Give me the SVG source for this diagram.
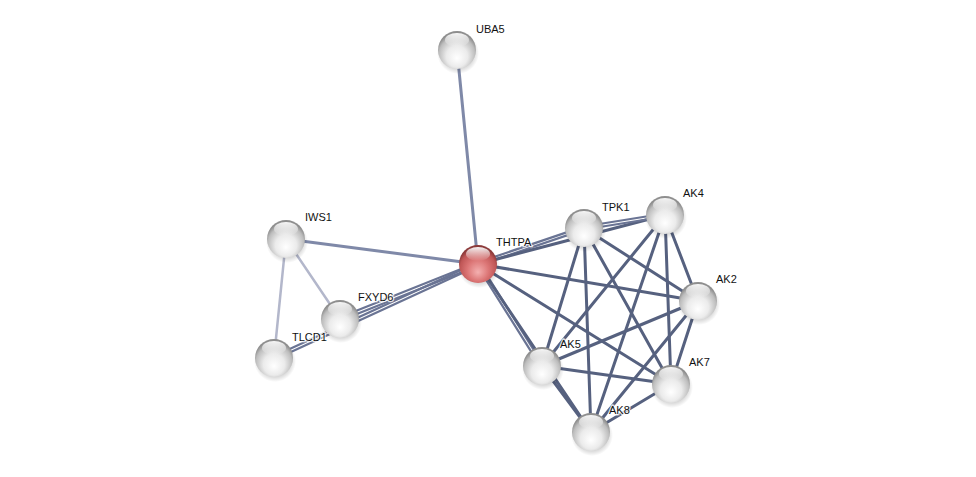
<svg xmlns="http://www.w3.org/2000/svg" width="976" height="477" viewBox="0 0 976 477">
<defs>
<radialGradient id="gBall" cx="50%" cy="62%" r="56%" fx="50%" fy="72%">
<stop offset="0%" stop-color="#ffffff"/>
<stop offset="50%" stop-color="#ebebeb"/>
<stop offset="85%" stop-color="#bdbdbd"/>
<stop offset="100%" stop-color="#8e8e8e"/>
</radialGradient>
<radialGradient id="gRed" cx="50%" cy="62%" r="56%" fx="50%" fy="72%">
<stop offset="0%" stop-color="#f4b0b0"/>
<stop offset="50%" stop-color="#dc7676"/>
<stop offset="85%" stop-color="#bf5656"/>
<stop offset="100%" stop-color="#8c3a3a"/>
</radialGradient>
<linearGradient id="gHi" x1="0" y1="0" x2="0" y2="1">
<stop offset="0%" stop-color="#ffffff" stop-opacity="0.95"/>
<stop offset="100%" stop-color="#ffffff" stop-opacity="0"/>
</linearGradient>
<radialGradient id="gShadow" cx="50%" cy="50%" r="50%">
<stop offset="70%" stop-color="#000" stop-opacity="0.18"/>
<stop offset="100%" stop-color="#000" stop-opacity="0"/>
</radialGradient>
<g id="ball">
<ellipse cx="1" cy="3" rx="21" ry="21" fill="url(#gShadow)"/>
<circle r="19" fill="url(#gBall)"/>
<ellipse cx="0" cy="-10" rx="12" ry="7" fill="url(#gHi)"/>
</g>
<g id="redball">
<ellipse cx="1" cy="3" rx="21" ry="21" fill="url(#gShadow)"/>
<circle r="19" fill="url(#gRed)"/>
<ellipse cx="0" cy="-10" rx="12" ry="7" fill="url(#gHi)"/>
</g>
</defs>
<style>
.e { stroke: #56617f; stroke-width: 3; stroke-linecap: round; fill: none; }
.em { stroke: #7f89a8; stroke-width: 3; stroke-linecap: round; fill: none; }
.el { stroke: #b3b7cb; stroke-width: 2.5; stroke-linecap: round; fill: none; }
.ed { stroke: #6a7494; stroke-width: 2.2; stroke-linecap: round; fill: none; }
text { font-family: "Liberation Sans", Arial, sans-serif; font-size: 11px; fill: #111; stroke: #fff; stroke-width: 2.5; stroke-opacity: 0.8; paint-order: stroke; }
</style>
<rect width="976" height="477" fill="#ffffff"/>
<g id="edges">
<line class="em" x1="457" y1="50" x2="478" y2="264"/>
<line class="em" x1="286" y1="239" x2="478" y2="264"/>
<line class="el" x1="286" y1="239" x2="340" y2="319"/>
<line class="el" x1="286" y1="239" x2="274" y2="358"/>
<line class="ed" x1="478.6" y1="265.4" x2="340.6" y2="320.4"/>
<line class="ed" x1="477.4" y1="262.6" x2="339.4" y2="317.6"/>
<line class="ed" x1="274.6" y1="359.4" x2="478.6" y2="265.4"/>
<line class="ed" x1="273.4" y1="356.6" x2="477.4" y2="262.6"/>
<line class="ed" x1="478.5" y1="265.4" x2="584.5" y2="229.4"/>
<line class="ed" x1="477.5" y1="262.6" x2="583.5" y2="226.6"/>
<line class="e" x1="478" y1="264" x2="665" y2="215"/>
<line class="e" x1="478" y1="264" x2="698" y2="301"/>
<line class="e" x1="478" y1="264" x2="671" y2="384"/>
<line class="ed" x1="479.3" y1="263.2" x2="543.3" y2="365.2"/>
<line class="ed" x1="476.7" y1="264.8" x2="540.7" y2="366.8"/>
<line class="e" x1="478" y1="264" x2="591" y2="432"/>
<line class="ed" x1="584.2" y1="229.5" x2="665.2" y2="216.5"/>
<line class="ed" x1="583.8" y1="226.5" x2="664.8" y2="213.5"/>
<line class="e" x1="584" y1="228" x2="698" y2="301"/>
<line class="e" x1="584" y1="228" x2="542" y2="366"/>
<line class="e" x1="584" y1="228" x2="591" y2="432"/>
<line class="e" x1="584" y1="228" x2="671" y2="384"/>
<line class="e" x1="665" y1="215" x2="698" y2="301"/>
<line class="e" x1="665" y1="215" x2="542" y2="366"/>
<line class="e" x1="665" y1="215" x2="591" y2="432"/>
<line class="e" x1="665" y1="215" x2="671" y2="384"/>
<line class="e" x1="698" y1="301" x2="542" y2="366"/>
<line class="e" x1="698" y1="301" x2="591" y2="432"/>
<line class="e" x1="698" y1="301" x2="671" y2="384"/>
<line class="e" x1="542" y1="366" x2="671" y2="384"/>
<line class="e" x1="542" y1="366" x2="591" y2="432"/>
<line class="e" x1="671" y1="384" x2="591" y2="432"/>
</g>
<g id="UBA5"><use href="#ball" x="457" y="50"/><text x="476" y="33">UBA5</text></g>
<g id="IWS1"><use href="#ball" x="286" y="239"/><text x="305" y="221">IWS1</text></g>
<g id="FXYD6"><use href="#ball" x="340" y="319"/><text x="358" y="301">FXYD6</text></g>
<g id="TLCD1"><use href="#ball" x="274" y="358"/><text x="292" y="341">TLCD1</text></g>
<g id="THTPA"><use href="#redball" x="478" y="264"/><text x="496" y="246">THTPA</text></g>
<g id="TPK1"><use href="#ball" x="584" y="228"/><text x="602" y="211">TPK1</text></g>
<g id="AK4"><use href="#ball" x="665" y="215"/><text x="683" y="197">AK4</text></g>
<g id="AK2"><use href="#ball" x="698" y="301"/><text x="716" y="283">AK2</text></g>
<g id="AK5"><use href="#ball" x="542" y="366"/><text x="560" y="348">AK5</text></g>
<g id="AK7"><use href="#ball" x="671" y="384"/><text x="689" y="366">AK7</text></g>
<g id="AK8"><use href="#ball" x="591" y="432"/><text x="609" y="414">AK8</text></g>
</svg>
